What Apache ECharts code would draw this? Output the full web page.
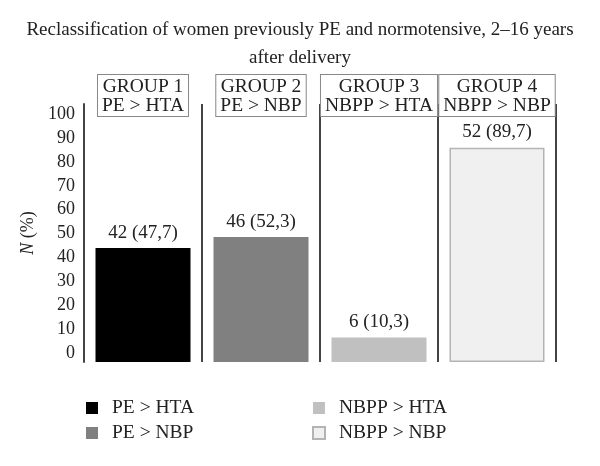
<!DOCTYPE html>
<html><head><meta charset="utf-8">
<script src="https://cdn.jsdelivr.net/npm/echarts@6/dist/echarts.min.js"></script>
<style>html,body{margin:0;padding:0;background:#fff}#c{width:600px;height:466px}</style>
</head><body><div id="c"></div>
<script>
const categories = ['PE > HTA', 'PE > NBP', 'NBPP > HTA', 'NBPP > NBP'];
const groupLabels = ['GROUP 1', 'GROUP 2', 'GROUP 3', 'GROUP 4'];
const counts = [42, 46, 6, 52];
const percents = [47.7, 52.3, 10.3, 89.7];
const colors = ['#000000', '#808080', '#c0c0c0', '#f0f0f0'];
const borders = ['#000000', '#808080', '#c0c0c0', '#b4b4b4'];
const titleText = 'Reclassification of women previously PE and normotensive, 2\u201316 years\nafter delivery';

const FONT = 'Liberation Serif';
const chart = echarts.init(document.getElementById('c'));

const series = categories.map((name, i) => ({
  name: name,
  type: 'bar',
  stack: 'all',
  barWidth: 95,
  data: percents.map((v, j) => (j === i ? v : '-')),
  itemStyle: { color: colors[i], borderColor: borders[i], borderWidth: i === 3 ? 1.5 : 0 },
  label: {
    show: true,
    position: 'top',
    distance: 6,
    fontFamily: FONT,
    fontSize: 19,
    color: '#222',
    formatter: p => counts[p.dataIndex] + ' (' + String(percents[p.dataIndex]).replace('.', ',') + ')'
  }
}));

const legendText = { fontFamily: FONT, fontSize: 19.5, color: '#222', padding: [0, 0, 0, 9] };

chart.setOption({
  animation: false,
  backgroundColor: '#fff',
  textStyle: { fontFamily: FONT },
  title: {
    text: titleText,
    left: 'center',
    top: 11,
    textStyle: { fontFamily: FONT, fontSize: 19, fontWeight: 'normal', color: '#222', lineHeight: 28 }
  },
  legend: [
    {
      data: categories.slice(0, 2),
      orient: 'vertical', left: 81, top: 393, itemGap: 5,
      itemWidth: 12, itemHeight: 12, icon: 'rect',
      textStyle: legendText
    },
    {
      data: categories.slice(2, 4),
      orient: 'vertical', left: 307, top: 393, itemGap: 5,
      itemWidth: 12, itemHeight: 12, icon: 'rect',
      textStyle: legendText
    }
  ],
  grid: { left: 84, right: 44, top: 104, bottom: 104 },
  xAxis: [
    {
      type: 'category',
      data: categories,
      position: 'bottom',
      axisLine: { show: false },
      axisTick: { show: false },
      axisLabel: { show: false },
      splitLine: { show: true, lineStyle: { color: '#444', width: 2 } }
    },
    {
      type: 'category',
      data: categories,
      position: 'top',
      offset: -12,
      axisLine: { show: false },
      axisTick: { show: false },
      splitLine: { show: false },
      axisLabel: {
        interval: 0,
        margin: 0,
        formatter: (v, i) => groupLabels[i] + '\n' + categories[i],
        fontFamily: FONT,
        fontSize: 19.5,
        lineHeight: 19,
        color: '#222',
        backgroundColor: '#fff',
        borderColor: '#888',
        borderWidth: 1,
        padding: [2, 4, 1, 4]
      }
    }
  ],
  yAxis: {
    type: 'value',
    min: 0,
    max: 108,
    interval: 10,
    name: '{i|N} (%)',
    nameLocation: 'middle',
    nameGap: 45,
    nameRotate: 90,
    nameTextStyle: {
      fontFamily: FONT, fontSize: 18, color: '#222',
      rich: { i: { fontFamily: FONT, fontSize: 18, fontStyle: 'italic', color: '#222' } }
    },
    axisLine: { show: true, lineStyle: { color: '#444', width: 2 } },
    axisTick: { show: false },
    splitLine: { show: false },
    axisLabel: {
      fontFamily: FONT, fontSize: 18, color: '#222', margin: 9,
      verticalAlign: 'bottom',
      formatter: v => (v <= 100 ? String(v) : '')
    }
  },
  series: series
});
</script></body></html>
